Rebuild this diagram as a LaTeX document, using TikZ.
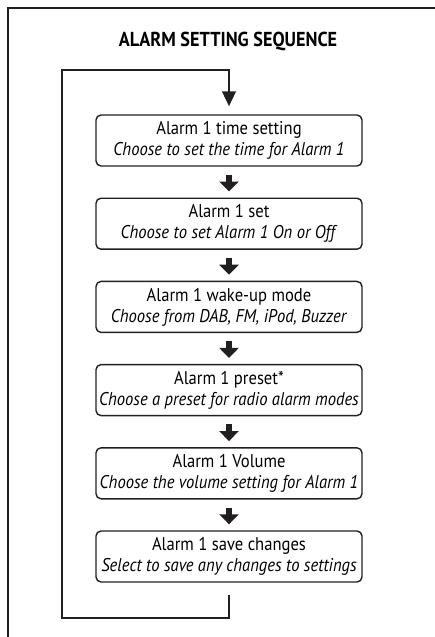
\documentclass[tikz,border=0pt]{standalone}
\usepackage{fontspec}
\setmainfont{PT Sans}[FakeStretch=0.9]
\usepackage{xcolor}
\usetikzlibrary{arrows.meta,calc}
\definecolor{ink}{HTML}{231F20}

\begin{document}
\begin{tikzpicture}[x=0.02cm,y=-0.02cm,
    stage/.style={draw=ink,line width=0.8pt,rounded corners=0.1cm,
      minimum width=5.32cm,minimum height=1.02cm,inner sep=0pt,align=center,
      font=\fontsize{10.5}{12}\selectfont},
    next/.style={ink,line width=0.12cm,-{Triangle[width=0.38cm,length=0.2cm]},
      shorten <=0.16cm,shorten >=0.12cm},
    back/.style={ink,line width=1.5pt}]
  \useasboundingbox (0,0) rectangle (435,637);
  % frame
  \draw[back] (8,640) -- (8,8) -- (440,8);
  \node[font=\bfseries\fontsize{11.5}{13}\selectfont] (T) at (228,41) {ALARM SETTING SEQUENCE};
  \node[stage] (A) at (229,140.5) {Alarm 1 time setting\\\textit{Choose to set the time for Alarm 1}};
  \node[stage] (B) at (229,223.7) {Alarm 1 set\\\textit{Choose to set Alarm 1 On or Off}};
  \node[stage] (C) at (229,306.9) {Alarm 1 wake-up mode\\\textit{Choose from DAB, FM, iPod, Buzzer}};
  \node[stage] (D) at (229,390.1) {Alarm 1 preset*\\\textit{Choose a preset for radio alarm modes}};
  \node[stage] (E) at (229,473.3) {Alarm 1 Volume\\\textit{Choose the volume setting for Alarm 1}};
  \node[stage] (F) at (229,556.5) {Alarm 1 save changes\\\textit{Select to save any changes to settings}};
  \draw[next] (A) -- (B);
  \draw[next] (B) -- (C);
  \draw[next] (C) -- (D);
  \draw[next] (D) -- (E);
  \draw[next] (E) -- (F);
  % loop back to the top
  \coordinate (L1) at (62,618);
  \coordinate (L2) at (62,70);
  \draw[back,-{Triangle[width=0.27cm,length=0.3cm]},shorten >=0.16cm]
    ($(F.south)+(0,12)$) |- (L1) -- (L2) -| (A.north);
\end{tikzpicture}
\end{document}
